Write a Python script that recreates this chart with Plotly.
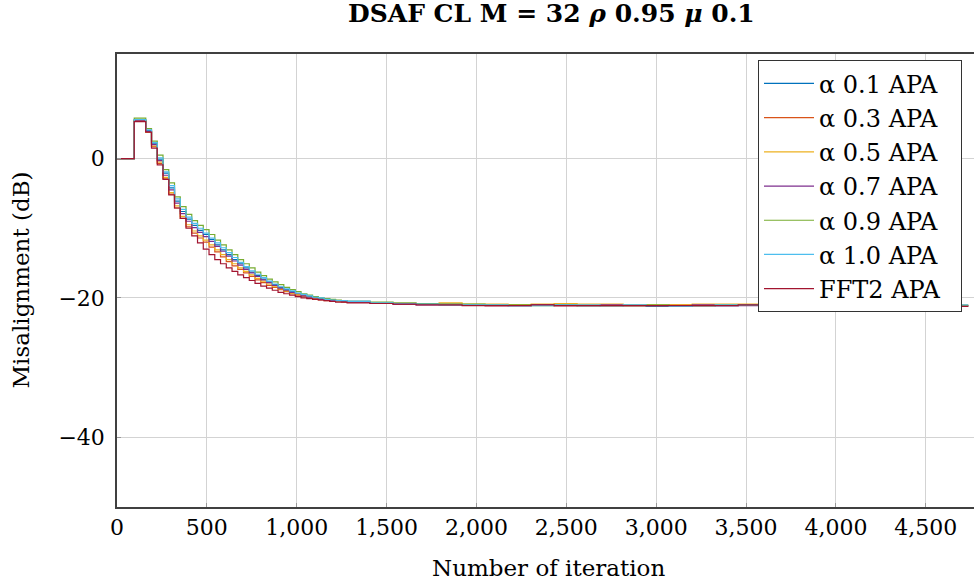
import plotly.graph_objects as go

# Iteration at which each constant step begins (block length 32 in the transient)
iterations = [0, 96, 128, 160, 192, 224, 256, 288, 320, 352, 384, 416, 448, 480, 512, 544,
              576, 608, 640, 672, 704, 736, 768, 800, 832, 864, 896, 928, 960, 992, 1024,
              1056, 1088, 1120, 1152, 1184, 1216, 1248, 1280,
              1408, 1536, 1664, 1792, 1920, 2048, 2176, 2304, 2432, 2560, 2688, 2816, 2944,
              3072, 3200, 3328, 3456, 3584, 3712, 3840, 3968, 4096, 4224, 4352, 4480, 4608,
              4736, 4800]

alpha_01 = [0, 5.5, 5.5, 4.0, 2.2, -0.1, -2.1, -4.2, -6.1, -7.6, -8.7, -9.6, -10.3, -10.9,
            -11.6, -12.4, -13.1, -13.8, -14.5, -15.1, -15.7, -16.3, -16.8, -17.3, -17.7, -18.1,
            -18.5, -18.8, -19.1, -19.4, -19.6, -19.8, -20.0, -20.1, -20.2, -20.3, -20.4, -20.5,
            -20.5,
            -20.7, -20.8, -20.9, -20.9, -21.0, -21.0, -21.1, -21.0, -21.0, -21.1, -21.1, -21.0,
            -21.2, -21.2, -21.1, -21.1, -21.0, -21.0, -21.0, -21.0, -21.1, -21.0, -21.0, -21.1,
            -21.0, -21.1, -21.1]
alpha_03 = [0, 5.4, 5.4, 3.8, 1.7, -0.7, -2.9, -5.1, -7.1, -8.6, -9.8, -10.7, -11.4, -12.0,
            -12.7, -13.4, -14.1, -14.8, -15.4, -15.9, -16.4, -16.9, -17.4, -17.8, -18.2, -18.5,
            -18.8, -19.1, -19.4, -19.6, -19.8, -20.0, -20.1, -20.3, -20.4, -20.5, -20.5, -20.6,
            -20.6,
            -20.8, -20.9, -20.9, -21.0, -21.0, -21.1, -21.0, -21.0, -21.1, -21.0, -21.1, -21.1,
            -21.1, -21.0, -21.1, -21.0, -21.0, -21.1, -21.0, -21.0, -21.0, -21.1, -21.0, -21.1,
            -21.1, -21.2, -21.2]
alpha_05 = [0, 5.4, 5.4, 3.8, 1.8, -0.5, -2.7, -4.9, -6.8, -8.3, -9.5, -10.4, -11.1, -11.7,
            -12.4, -13.1, -13.8, -14.5, -15.1, -15.7, -16.2, -16.7, -17.2, -17.6, -18.0, -18.4,
            -18.7, -19.0, -19.3, -19.5, -19.7, -19.9, -20.1, -20.2, -20.3, -20.4, -20.5, -20.5,
            -20.6,
            -20.7, -20.8, -20.8, -20.7, -20.9, -20.9, -21.0, -20.9, -20.8, -20.9, -20.9, -21.0,
            -21.0, -21.0, -20.9, -20.9, -20.9, -21.0, -20.9, -20.9, -21.0, -20.9, -20.9, -21.0,
            -20.9, -21.0, -21.0]
alpha_07 = [0, 5.5, 5.5, 3.9, 2.0, -0.3, -2.4, -4.5, -6.4, -7.9, -9.0, -9.9, -10.6, -11.2,
            -11.9, -12.6, -13.3, -14.0, -14.7, -15.3, -15.9, -16.4, -16.9, -17.4, -17.8, -18.2,
            -18.6, -18.9, -19.2, -19.4, -19.7, -19.9, -20.0, -20.2, -20.3, -20.4, -20.4, -20.5,
            -20.6,
            -20.8, -20.9, -21.0, -21.0, -21.0, -21.1, -21.1, -21.0, -21.1, -21.1, -21.0, -21.1,
            -21.1, -21.1, -21.0, -21.1, -21.1, -21.0, -21.1, -21.0, -21.1, -21.1, -21.0, -21.0,
            -21.1, -21.1, -21.1]
alpha_09 = [0, 5.8, 5.8, 4.3, 2.5, 0.5, -1.6, -3.5, -5.5, -6.9, -8.0, -8.9, -9.6, -10.2,
            -10.9, -11.7, -12.4, -13.1, -13.8, -14.5, -15.1, -15.7, -16.3, -16.8, -17.3, -17.7,
            -18.1, -18.5, -18.8, -19.1, -19.4, -19.6, -19.8, -20.0, -20.1, -20.2, -20.3, -20.4,
            -20.5,
            -20.6, -20.7, -20.8, -20.9, -20.9, -21.0, -21.0, -21.1, -21.0, -21.1, -21.1, -21.1,
            -21.0, -21.1, -21.1, -21.0, -21.0, -21.1, -21.0, -21.0, -21.1, -21.0, -21.1, -21.0,
            -21.1, -21.1, -21.1]
alpha_10 = [0, 5.6, 5.6, 4.1, 2.3, 0.1, -1.9, -3.9, -5.8, -7.3, -8.4, -9.3, -10.0, -10.7,
            -11.4, -12.1, -12.8, -13.5, -14.2, -14.9, -15.5, -16.1, -16.6, -17.1, -17.6, -18.0,
            -18.4, -18.7, -19.0, -19.3, -19.5, -19.7, -19.9, -20.0, -20.2, -20.3, -20.4, -20.4,
            -20.5,
            -20.7, -20.8, -20.9, -21.0, -21.0, -21.0, -21.1, -21.1, -21.0, -21.0, -21.1, -21.0,
            -21.1, -21.2, -21.1, -21.0, -21.0, -21.0, -20.9, -21.0, -21.0, -21.0, -21.0, -21.0,
            -21.0, -21.0, -21.0]
fft2 = [0, 5.3, 5.3, 3.8, 1.5, -0.9, -3.0, -5.2, -7.1, -8.6, -10.0, -11.1, -12.1, -13.0,
        -13.8, -14.5, -15.1, -15.7, -16.2, -16.7, -17.1, -17.5, -17.9, -18.3, -18.6, -18.9,
        -19.2, -19.4, -19.6, -19.8, -20.0, -20.1, -20.2, -20.3, -20.4, -20.5, -20.6, -20.6,
        -20.7,
        -20.8, -20.9, -21.0, -21.0, -21.1, -21.1, -21.1, -21.0, -21.1, -21.1, -21.1, -21.1,
        -21.1, -21.1, -21.1, -21.1, -21.0, -21.1, -21.1, -21.0, -21.1, -21.1, -21.1, -21.1,
        -21.1, -21.2, -21.2]

series_names = ["α 0.1 APA", "α 0.3 APA", "α 0.5 APA", "α 0.7 APA",
                "α 0.9 APA", "α 1.0 APA", "FFT2 APA"]
series_values = [alpha_01, alpha_03, alpha_05, alpha_07, alpha_09, alpha_10, fft2]
colors = ["#0072BD", "#D95319", "#EDB120", "#7E2F8E", "#77AC30", "#4DBEEE", "#A2142F"]

x_ticks = [0, 500, 1000, 1500, 2000, 2500, 3000, 3500, 4000, 4500]
y_ticks = [0, -20, -40]

FONT = "DejaVu Serif"
FS = 22
PAD = "\u00a0\u00a0"  # trailing room inside the legend box

W, H = 974, 588
L, T, B = 117, 54, 81

fig = go.Figure()
for i, (name, vals, col) in enumerate(zip(series_names, series_values, colors)):
    fig.add_trace(go.Scatter(x=iterations, y=vals, name=name + PAD, mode="lines",
                             legendgroup=f"g{i}",
                             line=dict(color=col, width=1.2, shape="hv")))

fig.update_layout(
    width=W, height=H,
    margin=dict(l=L, r=0, t=T, b=B),
    paper_bgcolor="white", plot_bgcolor="white",
    font=dict(family=FONT, size=FS, color="black"),
    separators=".,",
    showlegend=True,
    hovermode=False,
    legend=dict(x=0.986, y=0.986, xanchor="right", yanchor="top",
                bgcolor="white", bordercolor="#333333", borderwidth=1,
                font=dict(family=FONT, size=24), itemwidth=50, tracegroupgap=0),
    annotations=[
        dict(text="<b>DSAF CL M = 32 <i>ρ</i> 0.95 <i>μ</i> 0.1</b>", xref="paper",
             yref="paper", x=(551 - L) / (W - L), y=1, xanchor="center", yanchor="middle",
             yshift=T - 13, showarrow=False, font=dict(family=FONT, size=25)),
        dict(text="Number of iteration", xref="paper", yref="paper", x=(548 - L) / (W - L),
             y=0, xanchor="center", yanchor="middle", yshift=-61, showarrow=False,
             font=dict(family=FONT, size=23)),
        dict(text="Misalignment (dB)", xref="paper", yref="paper", x=0, y=0.5,
             xanchor="center", yanchor="middle", xshift=20 - L, textangle=-90,
             showarrow=False, font=dict(family=FONT, size=23)),
    ],
)
fig.update_xaxes(range=[0, 4768], tickvals=x_ticks, tickformat=",d",
                 showgrid=True, gridcolor="#d3d3d3", gridwidth=1,
                 showline=True, linecolor="#404040", linewidth=1.5, mirror=True,
                 ticks="inside", ticklen=4, tickcolor="#999999",
                 zeroline=False)
fig.update_yaxes(range=[-50, 15], tickvals=y_ticks,
                 showgrid=True, gridcolor="#d3d3d3", gridwidth=1,
                 showline=True, linecolor="#404040", linewidth=1.5,
                 ticks="inside", ticklen=4, tickcolor="#999999",
                 ticklabelstandoff=6,
                 zeroline=False)

fig.write_html("out.html", config={"displayModeBar": False},
               post_script="document.body.style.margin='0';document.body.style.overflow='hidden';")
